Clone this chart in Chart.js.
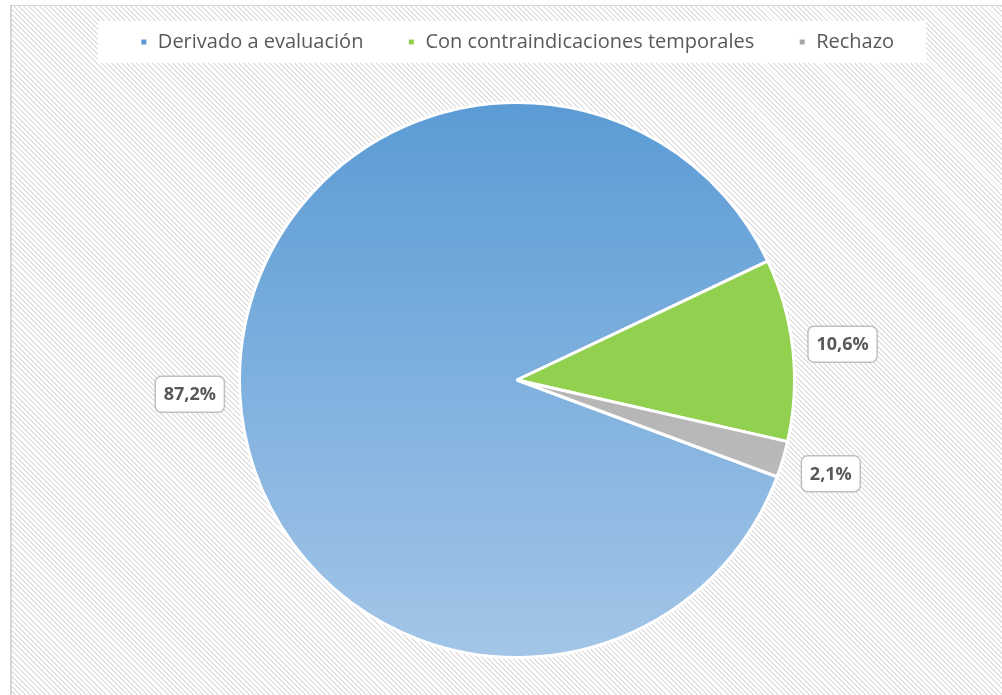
<!DOCTYPE html>
<html>
<head>
<meta charset="utf-8">
<script src="https://cdn.jsdelivr.net/npm/chart.js@4"></script>
<style>
    html, body { margin: 0; padding: 0; background: #fff; overflow: hidden; }
    #frame {
        position: absolute; left: 10px; top: 5px; width: 1000px; height: 700px;
        border-left: 2px solid #d6d6d6; border-top: 1px solid #d6d6d6;
        background: repeating-linear-gradient(45deg, #ffffff 0 2.2px, #e2e2e2 2.2px 3.6px);
    }
    #chart { position: absolute; left: 0; top: 0; }
</style>
</head>
<body>
<div id="frame"><canvas id="chart" width="990" height="690"></canvas></div>
<script>
const categories = ['Derivado a evaluación', 'Con contraindicaciones temporales', 'Rechazo'];
const percentages = [87.2, 10.6, 2.1];
const pieRotation = 110.4;

const labelFont = '"Open Sans", "Noto Sans", sans-serif';

function formatPct(v) {
    return v.toFixed(1).replace('.', ',') + '%';
}

function sliceColor(ctx) {
    const chart = ctx.chart;
    const area = chart.chartArea;
    const i = ctx.dataIndex;
    const flat = ['#5b9bd5', '#92d050', '#a5a5a5'];
    if (!area) return flat[i];
    const g = chart.ctx.createLinearGradient(0, area.top, 0, area.bottom);
    if (i === 0) {
        g.addColorStop(0, '#5b9bd5');
        g.addColorStop(1, '#a3c6e8');
    } else if (i === 1) {
        g.addColorStop(0, '#92d050');
        g.addColorStop(1, '#92d050');
    } else {
        g.addColorStop(0, '#a5a5a5');
        g.addColorStop(1, '#c4c4c4');
    }
    return g;
}

// keep the legend text near the top but leave room above the pie
const legendHeight = {
    id: 'legendHeight',
    beforeLayout(chart) {
        const legend = chart.legend;
        if (!legend || legend._fitPatched) return;
        const origFit = legend.fit;
        legend.fit = function () {
            origFit.call(this);
            this.height = 113;
        };
        legend._fitPatched = true;
    }
};

// white panel behind the legend items
const legendPanel = {
    id: 'legendPanel',
    beforeDraw(chart) {
        const boxes = chart.legend && chart.legend.legendHitBoxes;
        if (!boxes || !boxes.length) return;
        const first = boxes[0];
        const last = boxes[boxes.length - 1];
        const cy = first.top + first.height / 2;
        const ctx = chart.ctx;
        ctx.save();
        ctx.fillStyle = '#ffffff';
        const left = first.left - 42;
        const right = last.left + last.width + 32;
        ctx.fillRect(left, cy - 21, right - left, 42);
        ctx.restore();
    }
};

// rounded boxed percentage labels outside the slices
const pctLabels = {
    id: 'pctLabels',
    afterDatasetsDraw(chart) {
        const meta = chart.getDatasetMeta(0);
        const ctx = chart.ctx;
        ctx.save();
        ctx.font = 'bold 18px ' + labelFont;
        ctx.textAlign = 'center';
        ctx.textBaseline = 'middle';
        meta.data.forEach((arc, i) => {
            const p = arc.getProps(['x', 'y', 'startAngle', 'endAngle', 'outerRadius'], true);
            const mid = (p.startAngle + p.endAngle) / 2;
            const dist = p.outerRadius + 50;
            const x = p.x + Math.cos(mid) * dist;
            const y = p.y + Math.sin(mid) * dist;
            const text = formatPct(percentages[i]);
            const w = ctx.measureText(text).width + 17;
            const h = 36;
            ctx.beginPath();
            ctx.roundRect(x - w / 2, y - h / 2, w, h, 6);
            ctx.fillStyle = '#ffffff';
            ctx.fill();
            ctx.lineWidth = 1.5;
            ctx.strokeStyle = '#bfbfbf';
            ctx.stroke();
            ctx.fillStyle = '#595959';
            ctx.fillText(text, x, y + 1);
        });
        ctx.restore();
    }
};

new Chart(document.getElementById('chart'), {
    type: 'pie',
    data: {
        labels: categories,
        datasets: [{
            data: percentages,
            backgroundColor: sliceColor,
            borderColor: '#ffffff',
            borderWidth: 3
        }]
    },
    options: {
        responsive: false,
        animation: false,
        rotation: pieRotation,
        layout: { padding: { top: -18, left: 20, right: 0, bottom: 37 } },
        plugins: {
            legend: {
                display: true,
                position: 'top',
                labels: {
                    font: { family: labelFont, size: 20 },
                    color: '#595959',
                    boxWidth: 8,
                    boxHeight: 8,
                    padding: 44
                }
            },
            tooltip: { enabled: false }
        }
    },
    plugins: [legendHeight, legendPanel, pctLabels]
});
</script>
</body>
</html>
